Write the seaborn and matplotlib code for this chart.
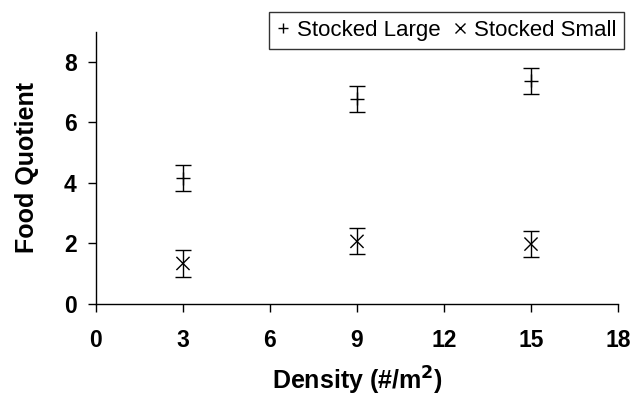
import numpy as np
import pandas as pd
import matplotlib
matplotlib.use("Agg")
import matplotlib.pyplot as plt
import seaborn as sns

density = [3, 9, 15]
large_mean = [4.16, 6.79, 7.38]
large_err = [0.43, 0.43, 0.43]
small_mean = [1.34, 2.07, 1.98]
small_err = [0.44, 0.43, 0.42]
series_names = ["Stocked Large", "Stocked Small"]
x_ticks = [0, 3, 6, 9, 12, 15, 18]
y_ticks = [0, 2, 4, 6, 8]

df = pd.DataFrame({
    "Density": density * 2,
    "Quotient": large_mean + small_mean,
    "Err": large_err + small_err,
    "Series": [series_names[0]] * 3 + [series_names[1]] * 3,
})

sns.set_style("ticks")
plt.rcParams["font.family"] = ["Liberation Sans", "DejaVu Sans"]
plt.rcParams["axes.labelcolor"] = "black"
plt.rcParams["text.color"] = "black"

fig = plt.figure(figsize=(6.31, 4.03), dpi=100)
ax = fig.add_axes([0.1521, 0.2457, 0.8273, 0.6756])

markers = {series_names[0]: "+", series_names[1]: "x"}
for name, grp in df.groupby("Series"):
    ax.errorbar(grp["Density"], grp["Quotient"], yerr=grp["Err"], fmt="none",
                ecolor="black", elinewidth=1.0, capsize=5.5, capthick=1.0, zorder=2)

sns.scatterplot(data=df, x="Density", y="Quotient", style="Series",
                markers=markers, color="black", s=90, linewidth=1.0,
                ax=ax, zorder=3)

ax.set_xlim(0, 18)
ax.set_ylim(0, 9)
ax.set_xticks(x_ticks)
ax.set_yticks(y_ticks)
ax.tick_params(axis="both", direction="out", length=6, width=1.0,
               colors="black", labelsize=16.5)
ax.tick_params(axis="x", pad=12)
ax.tick_params(axis="y", pad=8)
for lbl in ax.get_xticklabels() + ax.get_yticklabels():
    lbl.set_fontweight("bold")

for side in ["top", "right"]:
    ax.spines[side].set_visible(False)
for side in ["left", "bottom"]:
    ax.spines[side].set_color("black")
    ax.spines[side].set_linewidth(1.0)

ax.set_xlabel("Density (#/m$\\mathbf{^2}$)", fontsize=18, fontweight="bold", color="black")
ax.set_ylabel("Food Quotient", fontsize=18, fontweight="bold", color="black")
ax.xaxis.set_label_coords(0.5, -0.222)
ax.yaxis.set_label_coords(-0.11, 0.5)

handles, labels = ax.get_legend_handles_labels()
leg = ax.legend(handles, labels, ncol=2, loc="upper right",
                bbox_to_anchor=(624 / 631, 1 - 12 / 403),
                bbox_transform=fig.transFigure,
                fontsize=16, frameon=True,
                fancybox=False, edgecolor="black", handlelength=0.6,
                handletextpad=0.3, columnspacing=0.6, borderpad=0.35,
                markerscale=0.8, borderaxespad=0)
leg.get_frame().set_linewidth(1.0)
for t in leg.get_texts():
    t.set_color("black")

fig.savefig("out.png", dpi=100, facecolor="white")
